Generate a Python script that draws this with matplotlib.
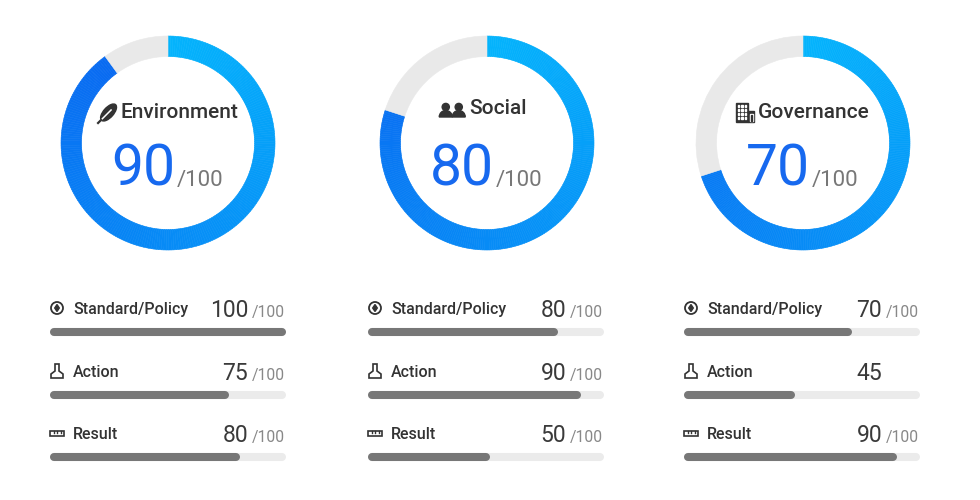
import numpy as np
import matplotlib.pyplot as plt
from matplotlib.patches import Wedge, Circle, Rectangle, Ellipse, Polygon
from matplotlib.colors import to_rgb

plt.rcParams['font.family'] = ['Roboto', 'DejaVu Sans']

# data
categories = ["Environment", "Social", "Governance"]
scores = [90, 80, 70]
sub_labels = ["Standard/Policy", "Action", "Result"]
sub_values = [[100, 75, 80],
              [80, 90, 50],
              [70, 45, 90]]
sub_suffix = [["/100", "/100", "/100"],
              ["/100", "/100", "/100"],
              ["/100", "", "/100"]]

# layout in pixels
W, H = 980, 500
CX = [168, 487, 803]
CY = 143
R_OUT, RING_W = 107, 20.5
BAR_LEFT = [50, 368, 684]
BAR_LEN = 236
ROWS = [308, 371, 433]
TITLE_Y = [113, 109, 112]

C_START, C_END = np.array(to_rgb("#04b4fc")), np.array(to_rgb("#0a62f0"))
GREY_TRACK = "#e9e9e9"
BAR_TRACK = "#ebebeb"
BAR_FILL = "#777777"
DARK = "#333333"

fig = plt.figure(figsize=(W / 100, H / 100), dpi=100)
fig.patch.set_facecolor("white")

# overlay axes in pixel coords (y down)
ov = fig.add_axes([0, 0, 1, 1], zorder=5)
ov.set_xlim(0, W)
ov.set_ylim(H, 0)
ov.axis("off")
ov.patch.set_alpha(0)


def icon_leaf(x, y):
    ov.add_patch(Ellipse((x + 1.5, y - 1.5), 21, 10, angle=-48, color=DARK))
    ov.plot([x - 8, x + 4], [y + 8, y - 4], color="white", lw=1.1)
    ov.plot([x - 9, x - 6], [y + 9, y + 6], color=DARK, lw=1.6)


def icon_people(x, y):
    for dx in (-6.5, 6.5):
        ov.add_patch(Circle((x + dx, y - 3), 3.6, color=DARK))
        ov.add_patch(Wedge((x + dx, y + 7), 6.5, 180, 360, color=DARK))


def icon_building(x, y):
    ov.add_patch(Rectangle((x - 9, y - 10), 12, 19, color=DARK))
    ov.add_patch(Rectangle((x + 3, y - 2), 6, 11, color=DARK))
    for i in range(4):
        for j in range(3):
            ov.add_patch(Rectangle((x - 7.5 + j * 3.6, y - 8 + i * 4), 1.6, 2.2,
                                   color="white"))
    ov.add_patch(Rectangle((x + 4.5, y + 0.5), 3, 7, color="white"))
    ov.add_patch(Rectangle((x + 5.5, y + 1.5), 1, 6, color=DARK))


def icon_policy(x, y):
    ov.add_patch(Circle((x, y), 6, fill=False, ec=DARK, lw=1.3))
    ov.add_patch(Polygon([[x, y - 3.5], [x + 2.3, y], [x, y + 3.5], [x - 2.3, y]],
                         color=DARK))


def icon_action(x, y):
    pts = [[x - 2, y - 7], [x + 2, y - 7], [x + 2, y], [x + 6, y + 3], [x + 6, y + 7],
           [x - 6, y + 7], [x - 6, y + 3], [x - 2, y]]
    ov.add_patch(Polygon(pts, closed=True, fill=False, ec=DARK, lw=1.2))


def icon_result(x, y):
    ov.add_patch(Rectangle((x - 7, y - 2.5), 14, 5, fill=False, ec=DARK, lw=1.2))
    for dx in (-3.5, 0, 3.5):
        ov.plot([x + dx, x + dx], [y - 2.5, y], color=DARK, lw=1)


title_icons = [icon_leaf, icon_people, icon_building]
icon_gap = [13, 17, 13]
row_icons = [icon_policy, icon_action, icon_result]

fig.canvas.draw()
renderer = fig.canvas.get_renderer()

for k, cat in enumerate(categories):
    cx = CX[k]
    # ring
    rax = fig.add_axes([(cx - 112) / W, (H - CY - 112) / H, 224 / W, 224 / H])
    rax.set_xlim(-112, 112)
    rax.set_ylim(-112, 112)
    rax.set_aspect("equal")
    rax.axis("off")
    span = scores[k] * 3.6
    n = 240
    edges = np.linspace(0, span, n + 1)
    for i in range(n):
        f = edges[i] / 360
        col = C_START * (1 - f) + C_END * f
        rax.add_patch(Wedge((0, 0), R_OUT, 90 - edges[i + 1], 90 - edges[i],
                            width=RING_W, fc=col, ec=col, lw=0.4))
    rax.add_patch(Wedge((0, 0), R_OUT, 90, 90 + (100 - scores[k]) * 3.6,
                        width=RING_W, fc=GREY_TRACK, ec=GREY_TRACK, lw=0.4))

    # title with icon
    t = ov.text(cx + 11, TITLE_Y[k], cat, ha="center", va="center",
                fontsize=15, color=DARK, fontweight="medium")
    bb = t.get_window_extent(renderer)
    title_icons[k](bb.x0 - icon_gap[k], TITLE_Y[k] + 1)

    # big score
    ov.text(cx + 7, 186, f"{scores[k]}", ha="right", va="baseline",
            fontsize=41, color="#1769ef")
    ov.text(cx + 9, 186, "/100", ha="left", va="baseline",
            fontsize=16, color="#777777")

    # bars
    bl = BAR_LEFT[k]
    bax = fig.add_axes([(bl + 4) / W, (H - 470) / H, (BAR_LEN - 8) / W, 170 / H])
    bax.set_xlim(0, 100)
    bax.set_ylim(470, 300)
    bax.axis("off")
    for j, lab in enumerate(sub_labels):
        ry = ROWS[j]
        by = ry + 24
        bax.plot([0, 100], [by, by], color=BAR_TRACK, lw=5.8,
                 solid_capstyle="round", clip_on=False)
        bax.plot([0, sub_values[k][j]], [by, by], color=BAR_FILL, lw=5.8,
                 solid_capstyle="round", clip_on=False)
        row_icons[j](bl + 7, ry)
        ov.text(bl + 23, ry + 6, lab, ha="left", va="baseline",
                fontsize=11.5, color=DARK, fontweight="medium")
        ov.text(bl + 198, ry + 9, f"{sub_values[k][j]}", ha="right",
                va="baseline", fontsize=16.5, color="#3a3a3a")
        ov.text(bl + 202, ry + 9, sub_suffix[k][j], ha="left",
                va="baseline", fontsize=11.3, color="#888888")

fig.savefig("out.png", dpi=100, facecolor="white")
